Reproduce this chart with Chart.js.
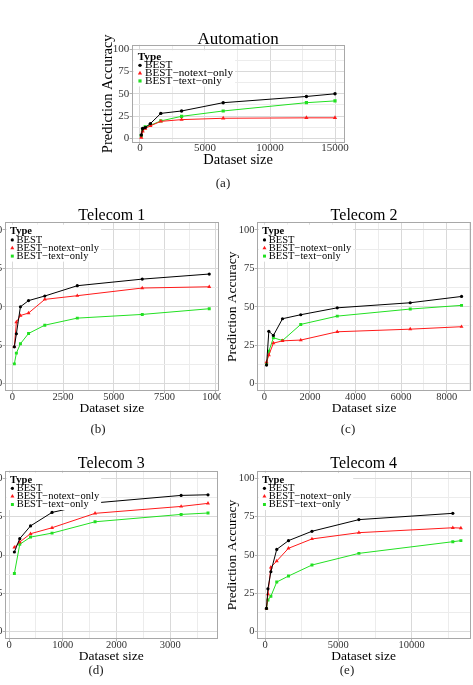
<!DOCTYPE html>
<html><head><meta charset="utf-8">
<script src="https://cdn.jsdelivr.net/npm/chart.js@4.4.0/dist/chart.umd.min.js"></script>
<style>
html,body{margin:0;padding:0;width:473px;height:685px;overflow:hidden;background:#fff;}
.clip{position:absolute;overflow:hidden;}
.clip canvas{position:absolute;}
.cap{position:absolute;font-family:"Liberation Serif","Times New Roman",serif;font-size:13px;color:#222;transform:translate(-50%,-50%);white-space:nowrap;line-height:1;will-change:transform;-webkit-font-smoothing:antialiased;}
</style></head><body>
<div class="cap" style="left:223px;top:182px">(a)</div>
<div class="cap" style="left:98px;top:428px">(b)</div>
<div class="cap" style="left:348px;top:428px">(c)</div>
<div class="cap" style="left:96px;top:669px">(d)</div>
<div class="cap" style="left:347px;top:669px">(e)</div>
<script>
// ---------- data ----------
const seriesNames = ['BEST', 'BEST\u2212notext\u2212only', 'BEST\u2212text\u2212only'];
const yTicks = [0, 25, 50, 75, 100];
const yMinor = [12.5, 37.5, 62.5, 87.5];

const autoSizes  = [100, 200, 400, 800, 1600, 3200, 6400, 12800, 15000];
const autoBest   = [3.7, 11, 12, 16.5, 28, 30.7, 40, 47, 50];
const autoNotext = [1, 8, 11, 14, 19, 21, 22.5, 23, 23];
const autoText   = [3, 9, 13, 14.6, 19.5, 24.7, 30.7, 40, 42];
const autoXTicks = [0, 5000, 10000, 15000];
const autoXMinor = [2500, 7500, 12500];

const tel1Sizes  = [100, 200, 400, 800, 1600, 3200, 6400, 9700];
const tel1Best   = [23.9, 32.4, 50, 54, 57, 63.7, 68, 71.3];
const tel1Notext = [24, 40, 44.3, 45.9, 54.8, 57.2, 62.2, 63];
const tel1Text   = [12.8, 19.8, 25.9, 32.6, 38, 42.6, 45, 48.7];
const tel1XTicks = [0, 2500, 5000, 7500, 10000];
const tel1XMinor = [1250, 3750, 6250, 8750];

const tel2Sizes  = [100, 200, 400, 800, 1600, 3200, 6400, 8650];
const tel2Best   = [12, 34, 31.3, 42.2, 44.8, 49.3, 52.6, 56.7];
const tel2Notext = [14, 18.5, 26.3, 27.8, 28.3, 33.7, 35.4, 37];
const tel2Text   = [12.8, 21, 29.8, 28, 38.5, 43.9, 48.5, 50.9];
const tel2XTicks = [0, 2000, 4000, 6000, 8000];
const tel2XMinor = [1000, 3000, 5000, 7000, 9000];

const tel3Sizes  = [100, 200, 400, 800, 1600, 3200, 3700];
const tel3Best   = [52, 60.7, 69, 77.8, 84, 88.9, 89.3];
const tel3Notext = [55, 58.5, 63.9, 67.8, 77.2, 81.7, 83.7];
const tel3Text   = [38, 57, 61.7, 64.3, 71.7, 76.5, 77.4];
const tel3XTicks = [0, 1000, 2000, 3000];
const tel3XMinor = [500, 1500, 2500, 3500];

const tel4Sizes  = [100, 200, 400, 800, 1600, 3200, 6400, 12800, 13350];
const tel4Best   = [15.2, 28, 39.1, 53.7, 59.4, 65.5, 73.1, 77.2, null];
const tel4Notext = [15.2, 24.6, 42, 46.1, 54.4, 60.5, 64.6, 67.8, 67.6];
const tel4Text   = [15.2, 20.7, 23.1, 32.4, 36.3, 43.5, 51.1, 58.7, 59.4];
const tel4XTicks = [0, 5000, 10000];
const tel4XMinor = [2500, 7500, 12500];

// ---------- styles ----------
const FONT = '"Liberation Serif", "Times New Roman", Times, serif';
const seriesColors = ['#000000', '#ff1a1a', '#22e022'];
const pointStyles = ['circle', 'triangle', 'rect'];
const pointRadii = [1.6, 2.3, 2.1];
const GRID_MAJOR = '#d9d9d9', GRID_MINOR = '#ececec', FRAME = '#a8a8a8', TICKMARK = '#b3b3b3', TICKTEXT = '#333333';

const legA = {tx: 6.1, ty: 12.5, rows: [20.5, 28.3, 36.1], kx: 8.4, ix: 13.4};
const legT = {tx: 5.4, ty: 9.4, rows: [17.6, 25.7, 33.8], kx: 7.7, ix: 12};

const panels = [
  {id: 'a', title: 'Automation', sizes: autoSizes, series: [autoBest, autoNotext, autoText],
   xTicks: autoXTicks, xMinor: autoXMinor, frame: {L: 131.6, T: 44.85, R: 344.7, B: 142.75},
   clip: {x: 0, y: 0, w: 473, h: 200}, s: 1.07, titleSize: 17, axisSize: 14.5, tickSize: 11,
   titleOff: 5.5, wy: 32, hx: 26, xPad: -3, leg: legA},
  {id: 'b', title: 'Telecom 1', sizes: tel1Sizes, series: [tel1Best, tel1Notext, tel1Text],
   xTicks: tel1XTicks, xMinor: tel1XMinor, frame: {L: 4.6, T: 222.3, R: 219, B: 391.2},
   clip: {x: 0, y: 200, w: 221, h: 240}, s: 1, titleSize: 16, axisSize: 13.5, tickSize: 10.5,
   titleOff: 6.7, wy: 32.7, hx: 25, xPad: -2, leg: legT},
  {id: 'c', title: 'Telecom 2', sizes: tel2Sizes, series: [tel2Best, tel2Notext, tel2Text],
   xTicks: tel2XTicks, xMinor: tel2XMinor, frame: {L: 256.8, T: 222.3, R: 471.3, B: 391.2},
   clip: {x: 225, y: 200, w: 248, h: 240}, s: 1, titleSize: 16, axisSize: 13.5, tickSize: 10.5,
   titleOff: 6.7, wy: 32.7, hx: 25, xPad: -2, leg: legT},
  {id: 'd', title: 'Telecom 3', sizes: tel3Sizes, series: [tel3Best, tel3Notext, tel3Text],
   xTicks: tel3XTicks, xMinor: tel3XMinor, frame: {L: 4.7, T: 470.7, R: 217.7, B: 639.4},
   clip: {x: 0, y: 445, w: 221, h: 240}, s: 1, titleSize: 16, axisSize: 13.5, tickSize: 10.5,
   titleOff: 6.7, wy: 32.7, hx: 25, xPad: -2, leg: legT},
  {id: 'e', title: 'Telecom 4', sizes: tel4Sizes, series: [tel4Best, tel4Notext, tel4Text],
   xTicks: tel4XTicks, xMinor: tel4XMinor, frame: {L: 256.75, T: 470.7, R: 470.6, B: 639.4},
   clip: {x: 225, y: 445, w: 248, h: 240}, s: 1, titleSize: 16, axisSize: 13.5, tickSize: 10.5,
   titleOff: 6.7, wy: 32.7, hx: 25, xPad: -2, leg: legT}
];

function drawMarker(ctx, style, r, x, y, color) {
  ctx.fillStyle = color;
  ctx.beginPath();
  if (style === 'circle') {
    ctx.arc(x, y, r, 0, Math.PI * 2);
  } else if (style === 'triangle') {
    for (let k = 0; k < 3; k++) {
      const a = k * 2 * Math.PI / 3;
      const px = x + Math.sin(a) * r, py = y - Math.cos(a) * r;
      if (k === 0) ctx.moveTo(px, py); else ctx.lineTo(px, py);
    }
    ctx.closePath();
  } else {
    const h = r / Math.SQRT2;
    ctx.rect(x - h, y - h, 2 * h, 2 * h);
  }
  ctx.fill();
}

function decoPlugin(p) {
  return {
    id: 'deco' + p.id,
    afterDatasetsDraw(chart) {
      const ctx = chart.ctx, a = chart.chartArea, lg = p.leg, s = p.s;
      const L = a.left, T = a.top;
      ctx.save();
      // legend
      const itemFont = (10.5 * s) + 'px ' + FONT;
      ctx.font = itemFont;
      let maxW = 0;
      seriesNames.forEach(n => { maxW = Math.max(maxW, ctx.measureText(n).width); });
      const bx = L + 2, by = T + lg.ty - 7;
      ctx.fillStyle = '#ffffff';
      ctx.fillRect(bx, by, L + lg.ix + maxW + 2 - bx, T + lg.rows[2] + 5.5 - by);
      ctx.textBaseline = 'middle';
      ctx.textAlign = 'left';
      ctx.fillStyle = '#000';
      ctx.font = 'bold ' + (10.5 * s) + 'px ' + FONT;
      ctx.fillText('Type', L + lg.tx, T + lg.ty);
      ctx.font = itemFont;
      seriesNames.forEach((n, i) => {
        drawMarker(ctx, pointStyles[i], pointRadii[i] * s, L + lg.kx, T + lg.rows[i], seriesColors[i]);
        ctx.fillStyle = '#000';
        ctx.fillText(n, L + lg.ix, T + lg.rows[i]);
      });
      // frame
      ctx.strokeStyle = FRAME;
      ctx.lineWidth = 1;
      const x0 = Math.round(a.left) + 0.5, x1 = Math.round(a.right) - 0.5;
      const y0 = Math.round(a.top) + 0.5, y1 = Math.round(a.bottom) - 0.5;
      ctx.strokeRect(x0, y0, x1 - x0, y1 - y0);
      // title
      ctx.fillStyle = '#000';
      ctx.font = p.titleSize + 'px ' + FONT;
      ctx.textAlign = 'center';
      ctx.textBaseline = 'middle';
      ctx.fillText(p.title, (a.left + a.right) / 2, a.top - p.titleOff);
      ctx.restore();
    }
  };
}

function makePanel(p) {
  const f = p.frame, cl = p.clip, Wy = p.wy, Hx = p.hx;
  const div = document.createElement('div');
  div.className = 'clip';
  div.style.left = cl.x + 'px'; div.style.top = cl.y + 'px';
  div.style.width = cl.w + 'px'; div.style.height = cl.h + 'px';
  document.body.appendChild(div);
  const cLeft = Math.floor(f.L - Wy - 16);
  const cTop = Math.floor(f.T - 26);
  const cRight = Math.ceil(f.R + 22);
  const cBottom = Math.ceil(f.B + Hx + 4);
  const W = cRight - cLeft, H = cBottom - cTop;
  const cv = document.createElement('canvas');
  cv.width = W; cv.height = H;
  cv.style.width = W + 'px'; cv.style.height = H + 'px';
  cv.style.left = (cLeft - cl.x) + 'px'; cv.style.top = (cTop - cl.y) + 'px';
  div.appendChild(cv);
  const pad = {left: f.L - Wy - cLeft, top: f.T - cTop, right: cRight - f.R, bottom: cBottom - f.B - Hx};

  const first = p.sizes[0], last = p.sizes[p.sizes.length - 1];
  const xr = last - first;
  const xmin = first - 0.05 * xr, xmax = last + 0.05 * xr;
  const xAll = p.xTicks.concat(p.xMinor).filter(v => v >= xmin && v <= xmax).sort((u, v) => u - v);
  const yAll = yTicks.concat(yMinor).sort((u, v) => u - v);
  const isMajX = v => p.xTicks.includes(v);
  const isMajY = v => yTicks.includes(v);

  new Chart(cv, {
    type: 'line',
    data: {
      datasets: p.series.map((vals, i) => ({
        label: seriesNames[i],
        data: p.sizes.map((x, j) => ({x: x, y: vals[j]})).filter(d => d.y !== null),
        borderColor: seriesColors[i],
        backgroundColor: seriesColors[i],
        pointBackgroundColor: seriesColors[i],
        pointBorderWidth: 0,
        pointStyle: pointStyles[i],
        pointRadius: pointRadii[i] * p.s,
        borderWidth: 1,
        tension: 0,
        fill: false
      }))
    },
    options: {
      responsive: false, animation: false, devicePixelRatio: 1, events: [],
      layout: {padding: pad},
      plugins: {legend: {display: false}, tooltip: {enabled: false}, title: {display: false}},
      scales: {
        x: {
          type: 'linear', min: xmin, max: xmax,
          afterFit: sc => { sc.height = Hx; },
          afterBuildTicks: sc => { sc.ticks = xAll.map(v => ({value: v})); },
          ticks: {autoSkip: false, maxRotation: 0, minRotation: 0, padding: p.xPad,
                  callback: v => isMajX(v) ? String(v) : '',
                  font: {family: FONT, size: p.tickSize}, color: TICKTEXT},
          grid: {color: c => (c.tick && isMajX(c.tick.value)) ? GRID_MAJOR : GRID_MINOR,
                 tickColor: c => (c.tick && isMajX(c.tick.value)) ? TICKMARK : 'rgba(0,0,0,0)',
                 lineWidth: 1, tickLength: 2, drawTicks: true},
          border: {display: false},
          title: {display: true, text: 'Dataset size', color: '#000', padding: 0,
                  font: {family: FONT, size: p.axisSize}}
        },
        y: {
          type: 'linear', min: -5, max: 105,
          afterFit: sc => { sc.width = Wy; },
          afterBuildTicks: sc => { sc.ticks = yAll.map(v => ({value: v})); },
          ticks: {autoSkip: false, padding: 0.3,
                  callback: v => isMajY(v) ? String(v) : '',
                  font: {family: FONT, size: p.tickSize}, color: TICKTEXT},
          grid: {color: c => (c.tick && isMajY(c.tick.value)) ? GRID_MAJOR : GRID_MINOR,
                 tickColor: c => (c.tick && isMajY(c.tick.value)) ? TICKMARK : 'rgba(0,0,0,0)',
                 lineWidth: 1, tickLength: 2, drawTicks: true},
          border: {display: false},
          title: {display: true, text: 'Prediction Accuracy', color: '#000', padding: 0,
                  font: {family: FONT, size: p.axisSize}}
        }
      }
    },
    plugins: [decoPlugin(p)]
  });
}

panels.forEach(makePanel);
</script>
</body></html>
